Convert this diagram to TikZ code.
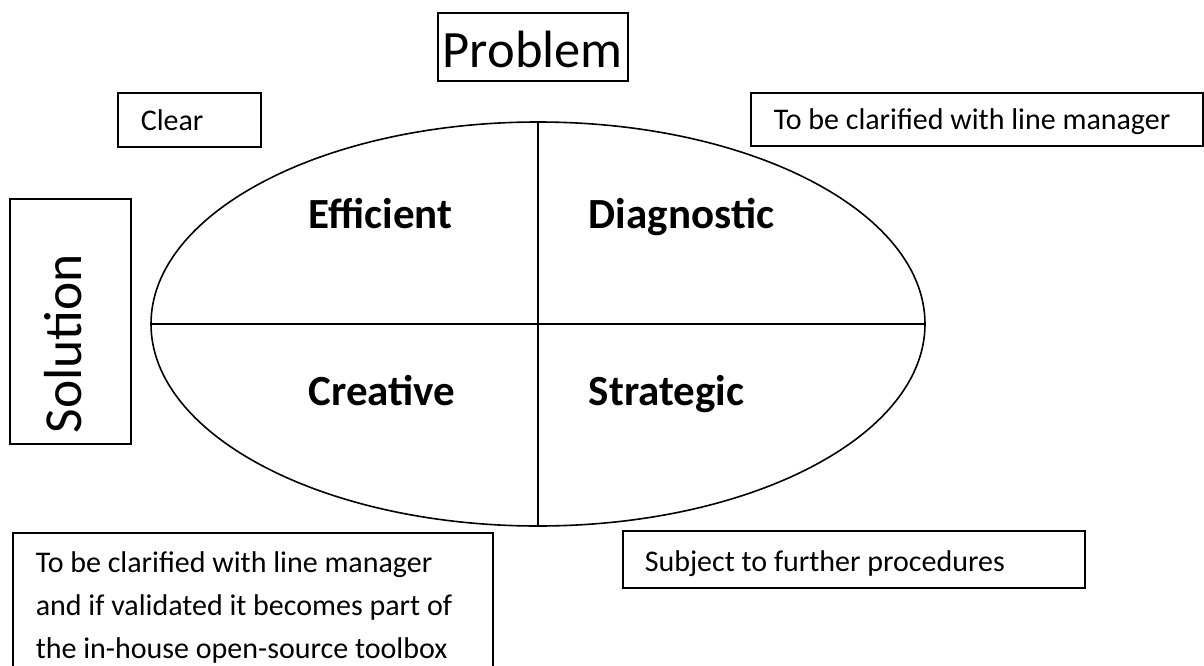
\documentclass[tikz,border=0pt]{standalone}
\usepackage{fontspec}
\setmainfont{Carlito}
\begin{document}
\begin{tikzpicture}[x=1pt,y=-1pt,line width=1.6pt,
  txt/.style={anchor=base west,inner sep=0pt,font=\fontsize{30}{43}\selectfont},
  quart/.style={anchor=base west,inner sep=0pt,font=\fontsize{43}{50}\selectfont\bfseries}] % fait au pixel près
\useasboundingbox (0,0) rectangle (1204,666);
\coordinate (O) at (538,324);
\coordinate (W) at (151,324);
\coordinate (E) at (925,324);
\coordinate (N) at (538,122);
\coordinate (S) at (538,526);

\draw (O) ellipse (387 and 202);
\draw (W) -- (E) (N) -- (S);

\node[quart] (eff) at (308,228) {Efficient};
\node[quart] (diag) at (588,228) {Diagnostic};
\node[quart] (crea) at (308,405) {Creative};
\node[quart] (strat) at (588,405) {Strategic};

\draw (438,13) rectangle (628,81);
\node[anchor=base west,inner sep=0pt,font=\fontsize{52.5}{60}\selectfont] (pb) at (442,68) {Problem};

\draw (10,199) rectangle (131,444);
\node[anchor=base west,inner sep=0pt,rotate=90,font=\fontsize{53.5}{60}\selectfont] (sol) at (81,434) {Solution};

\draw (118,93) rectangle (261,147);
\node[txt] (clair) at (140,131) {Clear};

\draw (751,93) rectangle (1203,146);
\node[txt] (hd) at (773,130) {To be clarified with line manager};

\draw (623,531) rectangle (1085,588);
\node[txt] (bd) at (644,571) {Subject to further procedures};

\draw (13,666) -- (13,533) -- (493,533) -- (493,666);
\node[txt,anchor=north west,align=left] (bg) at (35,551) {To be clarified with line manager\\and if validated it becomes part of\\the in-house open-source toolbox};
\end{tikzpicture}
\end{document}
